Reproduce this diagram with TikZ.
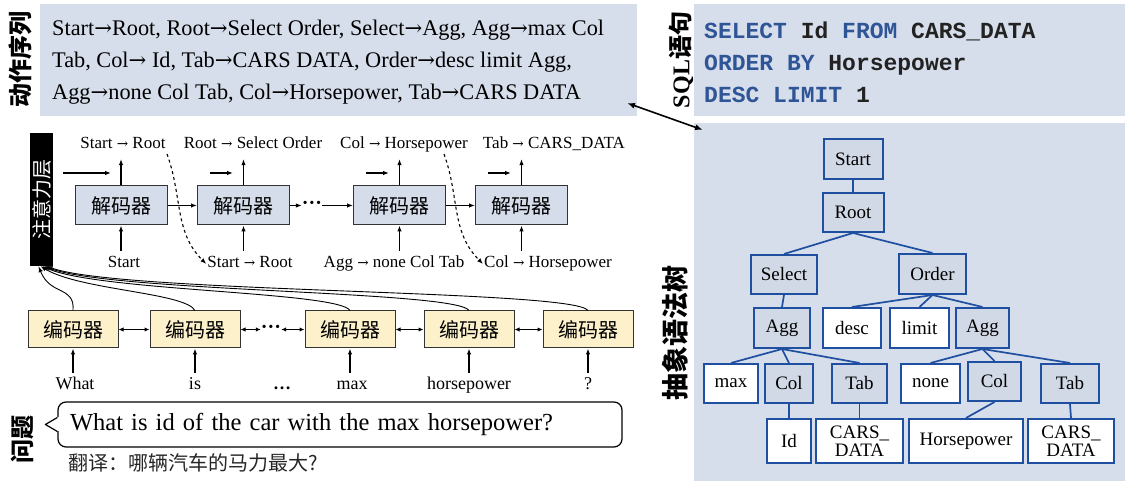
\documentclass[tikz,border=0pt]{standalone}
\usepackage{fontspec}
\setmainfont{Liberation Serif}
\newfontfamily\cjk{Noto Sans CJK SC}
\newfontfamily\sqlfont{Liberation Mono}
\newfontfamily\arrowfont{DejaVu Serif}[Scale=0.8]
\newfontfamily\bigarrowfont{DejaVu Serif}[Scale=0.95]
\newcommand\ra{{\arrowfont →}}
\newcommand\rb{{\bigarrowfont →}}
\usetikzlibrary{arrows.meta,calc}

\definecolor{panelbg}{HTML}{D6DDEB}
\definecolor{decfill}{HTML}{D5DCEA}
\definecolor{encfill}{HTML}{FDF1CC}
\definecolor{treeblue}{HTML}{1F4FA0}
\definecolor{treefill}{HTML}{D2D9E6}
\definecolor{kwblue}{HTML}{2F5597}
\definecolor{codeink}{HTML}{222222}
\definecolor{boxline}{HTML}{333333}

\tikzset{
  panel/.style={fill=panelbg},
  arr/.style={-{Latex[length=6pt,width=4.5pt]}, line width=1.1pt},
  darr/.style={{Latex[length=5pt,width=4.5pt]}-{Latex[length=5pt,width=4.5pt]}, line width=1.1pt},
  dec/.style={draw=boxline, line width=1pt, fill=decfill, minimum width=92pt, minimum height=39pt,
              inner sep=0pt, font=\cjk\fontsize{20}{20}\selectfont},
  enc/.style={dec, fill=encfill, minimum width=90pt, minimum height=37pt},
  lab/.style={font=\fontsize{17}{17}\selectfont, text height=12pt, text depth=4pt, inner sep=1pt},
  word/.style={font=\fontsize{18}{18}\selectfont, text height=12.5pt, text depth=4pt, inner sep=1pt},
  ellip/.style={font=\bfseries\fontsize{20}{20}\selectfont, inner sep=0pt},
  vlabel/.style={rotate=90, font=\cjk\bfseries\fontsize{#1}{#1}\selectfont, inner sep=0pt},
  nt/.style={draw=treeblue, line width=2pt, fill=treefill, minimum height=39pt, inner sep=0pt,
             font=\fontsize{19}{19}\selectfont},
  tm/.style={nt, fill=white},
  tedge/.style={draw=treeblue, line width=1.7pt},
  twoline/.style={align=center, font=\fontsize{19}{18}\selectfont},
  attlink/.style={arr, line width=0.9pt},
}

\begin{document}
\begin{tikzpicture}[x=1pt,y=1pt]
\useasboundingbox (0,0) rectangle (1125,481);

% background panels
\fill[panel] (40,365) rectangle (637,477);
\fill[panel] (694,365) rectangle (1125,477);
\fill[panel] (694,0) rectangle (1125,358);

% side labels
\node[vlabel=24] (lblact) at (20,421) {动作序列};
\node[rotate=90, inner sep=0pt, font=\bfseries\fontsize{24}{24}\selectfont] (lblsql) at (681,421) {SQL{\cjk 语句}};
\node[vlabel=27] (lblast) at (675,148) {抽象语法树};
\node[vlabel=24] (lblq) at (22,41) {问题};

% action sequence
\node[anchor=west, align=left, inner sep=0pt, font=\fontsize{22.3}{32}\selectfont] (actseq) at (52,419)
  {Start\rb Root, Root\rb Select Order, Select\rb Agg, Agg\rb max Col\\
   Tab, Col\rb{} Id, Tab\rb CARS DATA, Order\rb desc limit Agg,\\
   Agg\rb none Col Tab, Col\rb Horsepower, Tab\rb CARS DATA};

% SQL query
\node[anchor=west, align=left, inner sep=0pt, text=codeink,
      font=\sqlfont\bfseries\fontsize{23}{32}\selectfont] (sql) at (704,419)
  {\textcolor{kwblue}{SELECT} Id \textcolor{kwblue}{FROM} CARS\_DATA\\
   \textcolor{kwblue}{ORDER BY} Horsepower\\
   \textcolor{kwblue}{DESC LIMIT} 1};

% link between the sequence and the tree
\coordinate (lnka) at (627,378);
\coordinate (lnkb) at (703,351);
\draw[{Latex[length=8pt,width=6pt]}-{Latex[length=8pt,width=6pt]}, line width=1.6pt] (lnka) -- (lnkb);

% attention layer
\node[fill=black, rotate=90, minimum width=133pt, minimum height=23pt, inner sep=0pt, text=white,
      font=\cjk\fontsize{20}{20}\selectfont] (att) at (41.5,281.5) {注意力层};

% decoders
\node[dec] (d1) at (121,275.5) {解码器};
\node[dec] (d2) at (243.5,275.5) {解码器};
\node[dec] (d3) at (399.5,275.5) {解码器};
\node[dec] (d4) at (521.5,275.5) {解码器};
\node[ellip] (ddots) at (312,275.5) {···};

\draw[arr] (d1.east) -- (d2.west);
\draw[arr] (d2.east) -- (ddots.west);
\draw[arr] (ddots.east) -- (d3.west);
\draw[arr] (d3.east) -- (d4.west);

% decoder outputs
\node[lab] (t1) at (123,336) {Start \ra{} Root};
\node[lab] (t2) at (253,336) {Root \ra{} Select Order};
\node[lab] (t3) at (404,336) {Col \ra{} Horsepower};
\node[lab] (t4) at (554,336) {Tab \ra{} CARS\_DATA};
\foreach \d/\t in {d1/t1,d2/t2,d3/t3,d4/t4}
  \draw[arr, shorten >=5pt] (\d.north) -- (\d.north |- \t.south);

% context inputs
\coordinate (c1a) at (63,308);  \coordinate (c1b) at (111,308);
\coordinate (c2a) at (210,308); \coordinate (c2b) at (233,308);
\coordinate (c3a) at (366,308); \coordinate (c3b) at (389,308);
\coordinate (c4a) at (488,308); \coordinate (c4b) at (511,308);
\foreach \i in {1,...,4}
  \draw[arr] (c\i a) -- (c\i b);

% decoder inputs
\node[lab] (b1) at (124,217) {Start};
\node[lab] (b2) at (250,217) {Start \ra{} Root};
\node[lab] (b3) at (394,217) {Agg \ra{} none Col Tab};
\node[lab] (b4) at (548,217) {Col \ra{} Horsepower};
\foreach \d/\b in {d1/b1,d2/b2,d3/b3,d4/b4}
  \draw[arr, shorten <=4pt] (\d.south |- \b.north) -- (\d.south);

% feeding previous outputs back in
\coordinate (fb1) at (167,327);
\coordinate (fb3) at (444,327);
\draw[arr, dashed] (fb1) to[out=-70, in=135] (b2.west);
\draw[arr, dashed] (fb3) to[out=-70, in=135] (b4.west);

% encoders
\node[enc] (e1) at (73,151.5) {编码器};
\node[enc] (e2) at (195,151.5) {编码器};
\node[enc] (e3) at (350,151.5) {编码器};
\node[enc] (e4) at (469,151.5) {编码器};
\node[enc] (e5) at (588,151.5) {编码器};
\node[ellip] (edots) at (271,151.5) {···};

\draw[darr] (e1.east) -- (e2.west);
\draw[darr] (e2.east) -- (edots.west);
\draw[darr] (edots.east) -- (e3.west);
\draw[darr] (e3.east) -- (e4.west);
\draw[darr] (e4.east) -- (e5.west);

% input words
\node[word] (w1) at (75,96) {What};
\node[word] (w2) at (195,96) {is};
\node[word] (wd) at (282,96) {\textbf{…}};
\node[word] (w3) at (352,96) {max};
\node[word] (w4) at (469,96) {horsepower};
\node[word] (w5) at (588,96) {?};
\foreach \e/\w in {e1/w1,e2/w2,e3/w3,e4/w4,e5/w5}
  \draw[arr, shorten <=3pt] (\e.south |- \w.north) -- (\e.south);

% attention links from every encoder
\draw[attlink] (e1.north) .. controls +(2,25) and +(12,-30) .. ([xshift=-3pt]att.west);
\draw[attlink] (e2.north) .. controls +(-10,18) and +(40,-24) .. ([xshift=-1pt]att.west);
\draw[attlink] (e3.north) .. controls +(-12,19) and +(55,-25) .. ([xshift=1pt]att.west);
\draw[attlink] (e4.north) .. controls +(-13,20) and +(65,-26) .. ([xshift=3pt]att.west);
\draw[attlink] (e5.north) .. controls +(-14,21) and +(75,-27) .. ([xshift=5pt]att.west);

% question bubble
\node[draw, line width=1.2pt, rounded corners=8pt, minimum height=45pt, text width=540pt,
      inner xsep=12pt, align=left, font=\fontsize{24.5}{25}\selectfont] (q) at (340,56.5)
  {What is id of the car with the max horsepower?};
\fill[white] ([xshift=-1.5pt,yshift=-7pt]q.west) rectangle ([xshift=1.5pt,yshift=7pt]q.west);
\draw[line width=1.2pt, line join=round] ([yshift=7pt]q.west) -- ++(-12,-7) coordinate (qtip)
  -- ([yshift=-7pt]q.west);
\node[anchor=west, inner sep=0pt, text=black!85, font=\cjk\fontsize{20}{20}\selectfont] (trans)
  at (68,18) {翻译：哪辆汽车的马力最大?};

% abstract syntax tree
\node[nt, minimum width=59pt, minimum height=40pt] (tstart) at (853,322) {Start};
\node[nt, minimum width=61pt] (troot) at (853,268.5) {Root};
\node[nt, minimum width=66pt] (tsel) at (784,206.5) {Select};
\node[nt, minimum width=67pt, minimum height=40pt] (tord) at (932.5,207) {Order};
\node[nt, minimum width=56pt, minimum height=40pt] (taggl) at (782,153) {Agg};
\node[tm, minimum width=58pt, minimum height=40pt] (tdesc) at (852,153) {desc};
\node[tm, minimum width=59pt, minimum height=40pt] (tlimit) at (919.5,153) {limit};
\node[nt, minimum width=53pt, minimum height=40pt] (taggr) at (982.5,153) {Agg};
\node[tm, minimum width=54pt] (tmax) at (731,97.5) {max};
\node[nt, minimum width=48pt] (tcoll) at (789,97.5) {Col};
\node[nt, minimum width=55pt] (ttabl) at (859.5,97.5) {Tab};
\node[tm, minimum width=59pt] (tnone) at (930.5,97.5) {none};
\node[nt, minimum width=53pt] (tcolr) at (994.5,99.5) {Col};
\node[nt, minimum width=58pt] (ttabr) at (1070,97.5) {Tab};
\node[tm, minimum width=44pt, minimum height=44pt] (tid) at (789,40) {Id};
\node[tm, twoline, minimum width=87pt, minimum height=44pt] (tcars1) at (859.5,40) {CARS\_\\DATA};
\node[tm, minimum width=114pt, minimum height=44pt] (thp) at (966,40) {Horsepower};
\node[tm, twoline, minimum width=86pt, minimum height=44pt] (tcars2) at (1071,40) {CARS\_\\DATA};

\foreach \p/\c in {tstart/troot, troot/tsel, troot/tord, tsel/taggl,
                   tord/tdesc, tord/tlimit, tord/taggr,
                   taggl/tmax, taggl/tcoll, taggl/ttabl,
                   taggr/tnone, taggr/tcolr, taggr/ttabr,
                   tcoll/tid, ttabl/tcars1, tcolr/thp, ttabr/tcars2}
  \draw[tedge] (\p.south) -- (\c.north);
\end{tikzpicture}
\end{document}
